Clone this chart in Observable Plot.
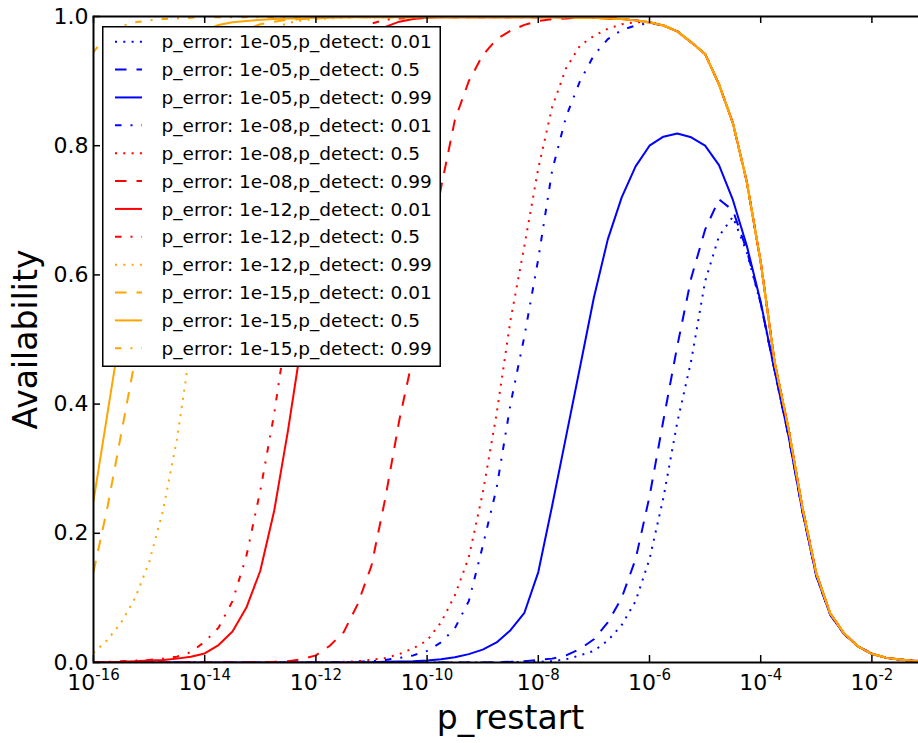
<!DOCTYPE html>
<html><head><meta charset="utf-8">
<script src="https://cdn.jsdelivr.net/npm/d3@7"></script>
<script src="https://cdn.jsdelivr.net/npm/@observablehq/plot@0.6"></script>
<style>
html,body{margin:0;padding:0;background:#fff;}
#wrap{position:relative;width:918px;height:743px;overflow:hidden;font-family:"DejaVu Sans",sans-serif;}
#wrap > svg.plot-main{max-width:none !important;width:935px;height:743px;display:block;}
#legend{position:absolute;left:102px;top:26px;}
</style></head><body><div id="wrap"></div>
<script>
// log10(p_restart) sample positions
const pRestartExp = [-16,-15.75,-15.5,-15.25,-15,-14.75,-14.5,-14.25,-14,-13.75,
  -13.5,-13.25,-13,-12.75,-12.5,-12.25,-12,-11.75,-11.5,-11.25,
  -11,-10.75,-10.5,-10.25,-10,-9.75,-9.5,-9.25,-9,-8.75,
  -8.5,-8.25,-8,-7.75,-7.5,-7.25,-7,-6.75,-6.5,-6.25,
  -6,-5.75,-5.5,-5.25,-5,-4.75,-4.5,-4.25,-4,-3.75,
  -3.5,-3.25,-3,-2.75,-2.5,-2.25,-2,-1.75,-1.5,-1.25,-1];

const avail_e05_d001 = [0,0,0,0,0,0,0,0,0,0, 0,0,0,0,0,0,0,0,0,0, 0,0,0,0,0,0,0,0,0,0,
  0.0005,0.001,0.001,0.002,0.005,0.011,0.018,0.034,0.058,0.095,
  0.16,0.255,0.372,0.467,0.59,0.66,0.69,0.635,0.555,
  0.452,0.351,0.234,0.134,0.074,0.044,0.025,0.0135,0.0075,0.0045,0.0028,0.0018];
const avail_e05_d05 = [0,0,0,0,0,0,0,0,0,0, 0,0,0,0,0,0,0,0,0,0, 0,0,0,0,0,0,0,0,0,0.0005,
  0.001,0.002,0.004,0.006,0.011,0.021,0.036,0.062,0.10,0.16,
  0.257,0.375,0.49,0.595,0.67,0.717,0.70,0.638,0.556,
  0.452,0.351,0.234,0.134,0.074,0.044,0.025,0.0135,0.0075,0.0045,0.0028,0.0018];
const avail_e05_d099 = [0,0,0,0,0,0,0,0,0,0, 0,0,0,0,0,0,0,0,0,0,
  0.0005,0.001,0.0015,0.002,0.003,0.005,0.008,0.013,0.02,0.031,
  0.05,0.077,0.14,0.243,0.35,0.457,0.565,0.655,0.72,0.768,
  0.80,0.814,0.819,0.813,0.80,0.77,0.716,0.645,0.558,
  0.452,0.351,0.234,0.134,0.074,0.044,0.025,0.0135,0.0075,0.0045,0.0028,0.0018];
const avail_e08_d001 = [0,0,0,0,0,0,0,0,0,0, 0,0,0,0,0,0,0,0,0.0005,0.001,
  0.002,0.004,0.007,0.011,0.018,0.031,0.053,0.095,0.18,0.27,
  0.40,0.505,0.625,0.762,0.845,0.90,0.94,0.965,0.979,0.986,
  0.99,0.986,0.977,0.96,0.942,0.895,0.835,0.744,0.62,0.465,
  0.362,0.24,0.138,0.076,0.045,0.025,0.0135,0.0075,0.0045,0.0028,0.0018];
const avail_e08_d05 = [0,0,0,0,0,0,0,0,0,0, 0,0,0,0,0,0,0,0,0.001,0.002,
  0.004,0.007,0.013,0.022,0.034,0.062,0.104,0.163,0.262,0.385,
  0.53,0.645,0.765,0.86,0.92,0.955,0.97,0.981,0.988,0.991,
  0.991,0.986,0.977,0.96,0.942,0.895,0.835,0.744,0.62,0.465,
  0.362,0.24,0.138,0.076,0.045,0.025,0.0135,0.0075,0.0045,0.0028,0.0018];
const avail_e08_d099 = [0,0,0,0,0,0,0,0,0,0, 0,0,0.0005,0.001,0.002,0.005,0.011,0.026,0.047,0.09,
  0.15,0.255,0.375,0.475,0.60,0.735,0.84,0.90,0.94,0.965,
  0.978,0.987,0.993,0.996,0.997,0.998,0.998,0.997,0.996,0.994,
  0.991,0.986,0.977,0.96,0.942,0.895,0.835,0.744,0.62,0.465,
  0.362,0.24,0.138,0.076,0.045,0.025,0.0135,0.0075,0.0045,0.0028,0.0018];
const avail_e12_d001 = [0,0.0005,0.001,0.002,0.003,0.004,0.006,0.009,0.014,0.027,
  0.048,0.085,0.142,0.235,0.36,0.50,0.65,0.78,0.875,0.935,
  0.968,0.984,0.992,0.996,0.998,0.999,0.999,0.999,0.999,0.999,
  0.999,0.999,0.999,0.999,0.999,0.998,0.998,0.997,0.996,0.994,
  0.991,0.986,0.977,0.96,0.942,0.895,0.835,0.744,0.62,0.465,
  0.362,0.24,0.138,0.076,0.045,0.025,0.0135,0.0075,0.0045,0.0028,0.0018];
const avail_e12_d05 = [0,0.001,0.002,0.003,0.004,0.006,0.009,0.016,0.032,0.054,
  0.095,0.165,0.266,0.385,0.53,0.68,0.80,0.89,0.945,0.975,
  0.989,0.995,0.997,0.998,0.999,0.999,0.999,0.999,0.999,0.999,
  0.999,0.999,0.999,0.999,0.999,0.998,0.998,0.997,0.996,0.994,
  0.991,0.986,0.977,0.96,0.942,0.895,0.835,0.744,0.62,0.465,
  0.362,0.24,0.138,0.076,0.045,0.025,0.0135,0.0075,0.0045,0.0028,0.0018];
const avail_e12_d099 = [0.015,0.035,0.062,0.10,0.155,0.235,0.345,0.49,0.64,0.77,
  0.87,0.93,0.965,0.982,0.99,0.994,0.996,0.997,0.998,0.999,
  0.999,0.999,0.999,0.999,0.999,0.999,0.999,0.999,0.999,0.999,
  0.999,0.999,0.999,0.999,0.999,0.998,0.998,0.997,0.996,0.994,
  0.991,0.986,0.977,0.96,0.942,0.895,0.835,0.744,0.62,0.465,
  0.362,0.24,0.138,0.076,0.045,0.025,0.0135,0.0075,0.0045,0.0028,0.0018];
const avail_e15_d001 = [0.14,0.24,0.355,0.47,0.585,0.69,0.78,0.855,0.91,0.945,
  0.968,0.98,0.988,0.992,0.995,0.996,0.997,0.998,0.999,0.999,
  0.999,0.999,0.999,0.999,0.999,0.999,0.999,0.999,0.999,0.999,
  0.999,0.999,0.999,0.999,0.999,0.998,0.998,0.997,0.996,0.994,
  0.991,0.986,0.977,0.96,0.942,0.895,0.835,0.744,0.62,0.465,
  0.362,0.24,0.138,0.076,0.045,0.025,0.0135,0.0075,0.0045,0.0028,0.0018];
const avail_e15_d05 = [0.25,0.385,0.52,0.65,0.76,0.85,0.91,0.95,0.978,0.987,
  0.991,0.993,0.995,0.996,0.997,0.997,0.998,0.998,0.999,0.999,
  0.999,0.999,0.999,0.999,0.999,0.999,0.999,0.999,0.999,0.999,
  0.999,0.999,0.999,0.999,0.999,0.998,0.998,0.997,0.996,0.994,
  0.991,0.986,0.977,0.96,0.942,0.895,0.835,0.744,0.62,0.465,
  0.362,0.24,0.138,0.076,0.045,0.025,0.0135,0.0075,0.0045,0.0028,0.0018];
const avail_e15_d099 = [0.945,0.972,0.985,0.991,0.994,0.996,0.997,0.998,0.999,0.999,
  0.999,0.999,0.999,0.999,0.999,0.999,0.999,0.999,0.999,0.999,
  0.999,0.999,0.999,0.999,0.999,0.999,0.999,0.999,0.999,0.999,
  0.999,0.999,0.999,0.999,0.999,0.998,0.998,0.997,0.996,0.994,
  0.991,0.986,0.977,0.96,0.942,0.895,0.835,0.744,0.62,0.465,
  0.362,0.24,0.138,0.076,0.045,0.025,0.0135,0.0075,0.0045,0.0028,0.0018];

const seriesLabels = [
  "p_error: 1e-05,p_detect: 0.01","p_error: 1e-05,p_detect: 0.5","p_error: 1e-05,p_detect: 0.99",
  "p_error: 1e-08,p_detect: 0.01","p_error: 1e-08,p_detect: 0.5","p_error: 1e-08,p_detect: 0.99",
  "p_error: 1e-12,p_detect: 0.01","p_error: 1e-12,p_detect: 0.5","p_error: 1e-12,p_detect: 0.99",
  "p_error: 1e-15,p_detect: 0.01","p_error: 1e-15,p_detect: 0.5","p_error: 1e-15,p_detect: 0.99"];
const seriesValues = [avail_e05_d001,avail_e05_d05,avail_e05_d099,avail_e08_d001,avail_e08_d05,avail_e08_d099,
  avail_e12_d001,avail_e12_d05,avail_e12_d099,avail_e15_d001,avail_e15_d05,avail_e15_d099];
const seriesColors = ["#0000ff","#0000ff","#0000ff","#0000ff","#ff0000","#ff0000","#ff0000","#ff0000","#ffa500","#ffa500","#ffa500","#ffa500"];
const seriesStyles = ["dotted","dashed","solid","dashdot","dotted","dashed","solid","dashdot","dotted","dashed","solid","dashdot"];
const xTickExp = [-16,-14,-12,-10,-8,-6,-4,-2];
const yTicks = [0,0.2,0.4,0.6,0.8,1.0];

const dashes = {solid: null, dotted: "2,6.3", dashed: "11.5,10", dashdot: "6.5,9,2,9"};
const W = 935, H = 743, mL = 93, mT = 16, mB = 81, mR = 8;
const frameH = H - mT - mB, frameW = W - mL - mR;
const xTicks = xTickExp.map(e => Math.pow(10, e));

const rows = [];
seriesValues.forEach((vals, k) => vals.forEach((v, i) => rows.push({k, p: Math.pow(10, pRestartExp[i]), v})));

const lineMarks = seriesValues.map((_, k) => Plot.line(rows.filter(r => r.k === k), {
  x: "p", y: "v", stroke: seriesColors[k], strokeWidth: 2,
  strokeDasharray: dashes[seriesStyles[k]], strokeLinecap: "butt", clip: true
}));

const chart = Plot.plot({
  width: W, height: H, marginLeft: mL, marginTop: mT, marginBottom: mB, marginRight: mR,
  className: "plot-main",
  style: {fontFamily: "DejaVu Sans, sans-serif", fontSize: "22px", color: "black", background: "white", maxWidth: "none"},
  x: {type: "log", domain: [1e-16, 1e-1]},
  y: {domain: [0, 1]},
  marks: [
    ...lineMarks,
    Plot.ruleX(xTicks, {x: d => d, insetTop: frameH - 7, stroke: "black", strokeWidth: 1.5}),
    Plot.ruleX(xTicks, {x: d => d, insetBottom: frameH - 7, stroke: "black", strokeWidth: 1.5}),
    Plot.ruleY(yTicks, {y: d => d, insetRight: frameW - 7, stroke: "black", strokeWidth: 1.5}),
    Plot.frame({stroke: "black", strokeWidth: 2}),
    Plot.axisX({ticks: xTicks, tickSize: 0, tickPadding: 12, fontSize: 22, label: null,
      tickFormat: d => "10^" + Math.round(Math.log10(d))}),
    Plot.axisY({ticks: yTicks, tickSize: 0, tickPadding: 5, fontSize: 22, label: null,
      tickFormat: d => d.toFixed(1)}),
    Plot.text(["p_restart"], {frameAnchor: "bottom", lineAnchor: "middle", textAnchor: "middle",
      text: d => d, dy: 55.7, fontSize: 33, fill: "black"}),
    Plot.text(["Availability"], {frameAnchor: "left", lineAnchor: "middle", textAnchor: "middle",
      text: d => d, rotate: -90, dx: -66.6, fontSize: 33, fill: "black"})
  ]
});
chart.style.maxWidth = "none";
chart.style.width = W + "px";
chart.style.height = H + "px";
chart.classList.add("plot-main");

// superscript exponents for x tick labels
chart.querySelectorAll('g[aria-label="x-axis tick label"] text').forEach(t => {
  const parts = t.textContent.split("^");
  t.textContent = parts[0];
  const ts = document.createElementNS("http://www.w3.org/2000/svg", "tspan");
  ts.setAttribute("dy", "-10");
  ts.setAttribute("font-size", "15");
  ts.textContent = parts[1];
  t.appendChild(ts);
});

const wrap = document.getElementById("wrap");
wrap.appendChild(chart);

// legend box (overlay with white background like matplotlib)
const NS = "http://www.w3.org/2000/svg";
const lw = 339, lh = 341;
const leg = document.createElementNS(NS, "svg");
leg.setAttribute("id", "legend");
leg.setAttribute("width", lw); leg.setAttribute("height", lh);
leg.style.fontFamily = "DejaVu Sans, sans-serif";
const bg = document.createElementNS(NS, "rect");
bg.setAttribute("x", 0.75); bg.setAttribute("y", 0.75);
bg.setAttribute("width", lw - 1.5); bg.setAttribute("height", lh - 1.5);
bg.setAttribute("fill", "white"); bg.setAttribute("stroke", "black"); bg.setAttribute("stroke-width", 1.5);
leg.appendChild(bg);
seriesLabels.forEach((lab, i) => {
  const cy = 15.7 + 27.87 * i;
  const ln = document.createElementNS(NS, "line");
  ln.setAttribute("x1", 13); ln.setAttribute("x2", 40);
  ln.setAttribute("y1", cy); ln.setAttribute("y2", cy);
  ln.setAttribute("stroke", seriesColors[i]); ln.setAttribute("stroke-width", 2);
  if (dashes[seriesStyles[i]]) ln.setAttribute("stroke-dasharray", dashes[seriesStyles[i]]);
  leg.appendChild(ln);
  const tx = document.createElementNS(NS, "text");
  tx.setAttribute("x", 59.5); tx.setAttribute("y", cy + 6.6);
  tx.setAttribute("font-size", 18.5); tx.setAttribute("fill", "black");
  tx.textContent = lab;
  leg.appendChild(tx);
});
wrap.appendChild(leg);
</script></body></html>
